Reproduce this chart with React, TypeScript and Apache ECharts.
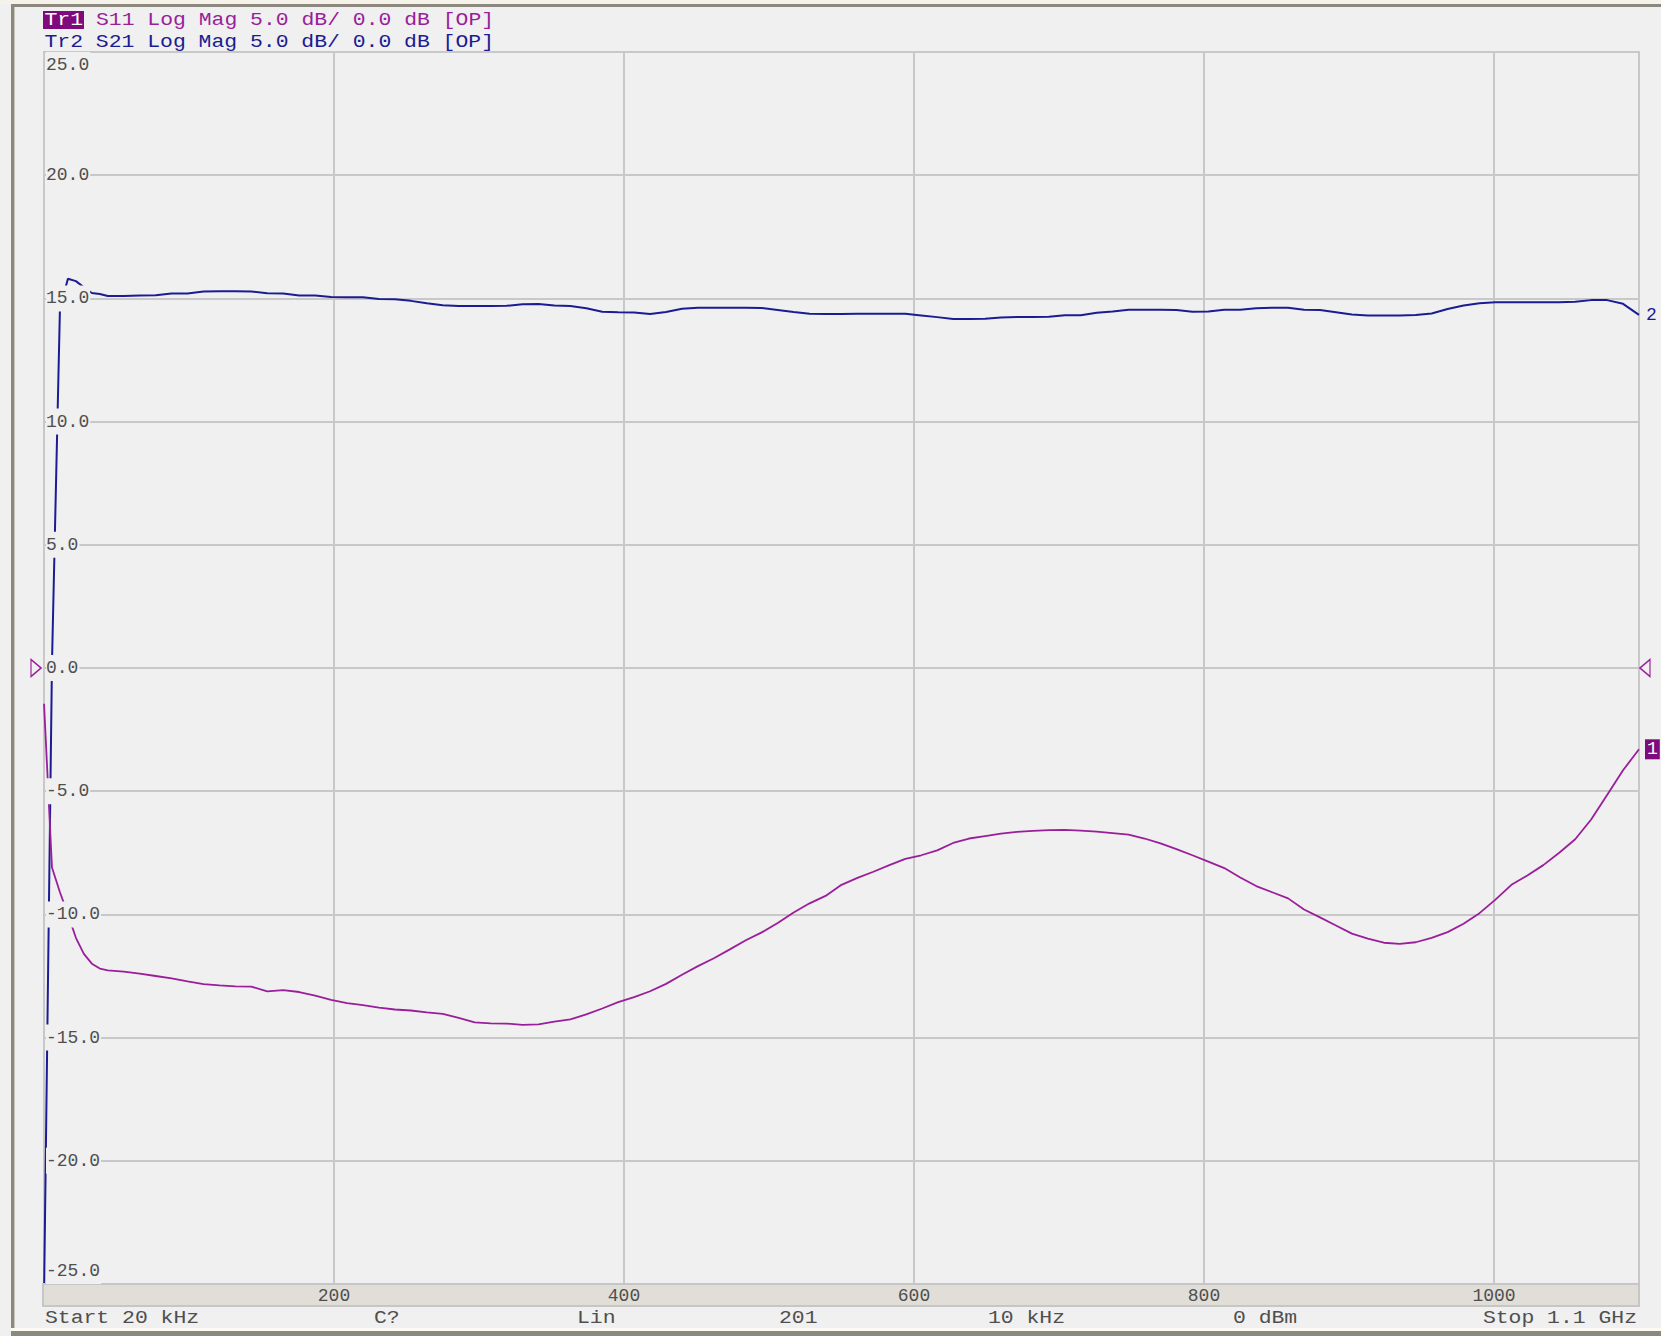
import React, { useEffect, useRef } from "react";
import * as echarts from "echarts";

// Frequency points (MHz) and trace values (dB)
const freqMHz = [
  0.02, 5.5, 11, 16.5, 22, 27.5, 33, 38.5, 44,
  55, 66, 77, 88, 99, 110, 121, 132, 143, 154, 165, 176, 187, 198,
  209, 220, 231, 242, 253, 264, 275, 286, 297, 308, 319, 330, 341, 352,
  363, 374, 385, 396, 407, 418, 429, 440, 451, 462, 473, 484, 495, 506,
  517, 528, 539, 550, 561, 572, 583, 594, 605, 616, 627, 638, 649, 660,
  671, 682, 693, 704, 715, 726, 737, 748, 759, 770, 781, 792, 803, 814,
  825, 836, 847, 858, 869, 880, 891, 902, 913, 924, 935, 946, 957, 968,
  979, 990, 1001, 1012, 1023, 1034, 1045, 1056, 1067, 1078, 1089, 1100,
];

const s21Db = [
  -25.5, 0.2, 14.6, 15.8, 15.7, 15.45, 15.22, 15.18, 15.1,
  15.1, 15.12, 15.13, 15.2, 15.2, 15.28, 15.29, 15.29, 15.28, 15.21, 15.2, 15.12, 15.12, 15.06,
  15.05, 15.05, 14.98, 14.97, 14.9, 14.8, 14.72, 14.69, 14.69, 14.69, 14.7, 14.76, 14.77, 14.71,
  14.69, 14.6, 14.46, 14.44, 14.43, 14.37, 14.45, 14.58, 14.62, 14.62, 14.62, 14.62, 14.61, 14.53,
  14.45, 14.38, 14.37, 14.37, 14.38, 14.38, 14.38, 14.38, 14.31, 14.24, 14.16, 14.16, 14.17, 14.22,
  14.25, 14.25, 14.26, 14.32, 14.32, 14.42, 14.47, 14.54, 14.54, 14.54, 14.53, 14.46, 14.47, 14.54,
  14.54, 14.6, 14.62, 14.62, 14.54, 14.53, 14.44, 14.35, 14.31, 14.31, 14.31, 14.33, 14.39, 14.57,
  14.71, 14.8, 14.84, 14.84, 14.84, 14.84, 14.84, 14.86, 14.93, 14.93, 14.78, 14.33,
];

const s11Db = [
  -1.45, -8.1, -9.1, -10.0, -10.95, -11.6, -12.0, -12.2, -12.27,
  -12.32, -12.4, -12.5, -12.6, -12.72, -12.83, -12.88, -12.92, -12.93, -13.12, -13.07, -13.15, -13.3, -13.47,
  -13.6, -13.68, -13.78, -13.86, -13.9, -13.98, -14.04, -14.2, -14.38, -14.42, -14.43, -14.48, -14.46, -14.35,
  -14.26, -14.06, -13.82, -13.56, -13.36, -13.12, -12.82, -12.45, -12.1, -11.78, -11.42, -11.05, -10.73, -10.35,
  -9.92, -9.55, -9.25, -8.8, -8.52, -8.27, -8.0, -7.75, -7.6, -7.4, -7.1, -6.92, -6.82, -6.72,
  -6.65, -6.61, -6.58, -6.57, -6.6, -6.64, -6.7, -6.76, -6.92, -7.12, -7.35, -7.6, -7.86, -8.12,
  -8.5, -8.85, -9.1, -9.35, -9.8, -10.12, -10.45, -10.78, -10.98, -11.15, -11.2, -11.13, -10.95, -10.72,
  -10.38, -9.95, -9.4, -8.8, -8.42, -8.0, -7.5, -6.95, -6.15, -5.15, -4.15, -3.3,
];

const headerTr1 = "Tr1";
const headerS11 = "S11 Log Mag 5.0 dB/ 0.0 dB [OP]";
const headerTr2 = "Tr2 S21 Log Mag 5.0 dB/ 0.0 dB [OP]";
const footerLabels = ["Start 20 kHz", "C?", "Lin", "201", "10 kHz", "0 dBm", "Stop 1.1 GHz"];
const footerX = [45, 374, 577, 779, 988, 1233, 1637];

const MONO = '"Liberation Mono", "DejaVu Sans Mono", monospace';
const MAGENTA = "#9a1e9a";
const BLUE = "#1c1c92";
const GRAY_TXT = "#4f4f4f";
const GRID_C = "#c8c8c8";
const FS = 18;
const SX = 1.19;

export default function App() {
  const ref = useRef<HTMLDivElement>(null);
  useEffect(() => {
    if (!ref.current) return;
    const chart = echarts.init(ref.current, null, { renderer: "svg" });

    const s11Data = freqMHz.map((f, i) => [f, s11Db[i]]);
    const s21Data = freqMHz.map((f, i) => [f, s21Db[i]]);

    const footerEls = footerLabels.map((t, i) => ({
      type: "text",
      x: footerX[i],
      y: 1318,
      scaleX: SX,
      z: 20,
      style: {
        text: t,
        fontFamily: MONO,
        fontSize: FS,
        fill: GRAY_TXT,
        textAlign: i === footerLabels.length - 1 ? "right" : "left",
        align: i === footerLabels.length - 1 ? "right" : "left",
        textVerticalAlign: "middle",
        verticalAlign: "middle",
      },
    }));

    const option: any = {
      animation: false,
      backgroundColor: "#f0f0f0",
      grid: {
        left: 44,
        top: 52,
        width: 1595,
        height: 1232,
        show: true,
        borderColor: "#c4c4c4",
        borderWidth: 2,
        backgroundColor: "#f0f0f0",
      },
      xAxis: [
        {
          type: "value",
          min: 0,
          max: 1100,
          interval: 200,
          position: "bottom",
          axisLine: { show: false },
          axisTick: { show: false },
          axisLabel: { show: false },
          splitLine: { show: true, lineStyle: { color: GRID_C, width: 2 } },
        },
        {
          type: "value",
          min: 0,
          max: 1100,
          interval: 200,
          position: "bottom",
          z: 10,
          axisLine: { show: false },
          axisTick: { show: false },
          splitLine: { show: false },
          axisLabel: {
            show: true,
            showMinLabel: false,
            showMaxLabel: false,
            margin: 3,
            color: GRAY_TXT,
            fontFamily: MONO,
            fontSize: FS,
            formatter: (v: number) => String(v),
          },
        },
      ],
      yAxis: [
        {
          type: "value",
          min: -25,
          max: 25,
          interval: 5,
          position: "left",
          axisLine: { show: false },
          axisTick: { show: false },
          axisLabel: { show: false },
          splitLine: { show: true, lineStyle: { color: GRID_C, width: 2 } },
        },
        {
          type: "value",
          min: -25,
          max: 25,
          interval: 5,
          position: "left",
          offset: 0,
          z: 10,
          axisLine: { show: false },
          axisTick: { show: false },
          splitLine: { show: false },
          axisLabel: {
            show: true,
            inside: true,
            margin: 2,
            color: GRAY_TXT,
            fontFamily: MONO,
            fontSize: FS,
            backgroundColor: "#f0f0f0",
            padding: [4, 1, 4, 0],
            verticalAlignMaxLabel: "top",
            verticalAlignMinLabel: "bottom",
            formatter: (v: number) => v.toFixed(1),
          },
        },
      ],
      series: [
        {
          type: "line",
          name: "S21",
          xAxisIndex: 0,
          yAxisIndex: 0,
          data: s21Data,
          showSymbol: false,
          symbol: "none",
          clip: true,
          lineStyle: { color: BLUE, width: 2 },
          itemStyle: { color: BLUE },
          endLabel: {
            show: true,
            formatter: "2",
            distance: 7,
            color: BLUE,
            fontFamily: MONO,
            fontSize: FS,
          },
        },
        {
          type: "line",
          name: "S11",
          xAxisIndex: 0,
          yAxisIndex: 0,
          data: s11Data,
          showSymbol: false,
          symbol: "none",
          clip: true,
          lineStyle: { color: MAGENTA, width: 1.8 },
          itemStyle: { color: MAGENTA },
          endLabel: {
            show: true,
            formatter: "1",
            distance: 6,
            color: "#ffffff",
            backgroundColor: "#7e0a7e",
            padding: [1, 2, 1, 2],
            fontFamily: MONO,
            fontSize: FS,
          },
          markPoint: {
            silent: true,
            label: { show: false },
            symbolKeepAspect: false,
            itemStyle: { color: "rgba(0,0,0,0)", borderColor: MAGENTA, borderWidth: 1.5 },
            data: [
              { coord: [0, 0], symbol: "path://M0,0L10,8L0,16Z", symbolSize: [10, 17], symbolOffset: [-8, 0] },
              { coord: [1100, 0], symbol: "path://M10,0L0,8L10,16Z", symbolSize: [10, 17], symbolOffset: [6, 0] },
            ],
          },
        },
      ],
      graphic: [
        // outer instrument frame
        { type: "rect", z: 20, shape: { x: 0, y: 0, width: 1661, height: 4 }, style: { fill: "#f4f2e9" } },
        { type: "rect", z: 20, shape: { x: 11, y: 4, width: 1650, height: 3 }, style: { fill: "#8c887e" } },
        { type: "rect", z: 20, shape: { x: 11, y: 4, width: 3, height: 1332 }, style: { fill: "#8c887e" } },
        { type: "rect", z: 20, shape: { x: 14, y: 7, width: 1, height: 1322 }, style: { fill: "#c9c6bc" } },
        { type: "rect", z: 20, shape: { x: 11, y: 1328, width: 1650, height: 3 }, style: { fill: "#fbfaf3" } },
        { type: "rect", z: 20, shape: { x: 11, y: 1331, width: 1650, height: 5 }, style: { fill: "#8c887e" } },
        // frequency axis band
        {
          type: "rect",
          z: 5,
          shape: { x: 43, y: 1284, width: 1596, height: 22 },
          style: { fill: "#e1ded7", stroke: "#c6c6c6", lineWidth: 2 },
        },
        // header
        { type: "rect", z: 20, shape: { x: 43, y: 11, width: 41, height: 18 }, style: { fill: "#7e0a7e" } },
        {
          type: "text",
          z: 21,
          x: 44.5,
          y: 20,
          scaleX: SX,
          style: {
            text: headerTr1,
            fontFamily: MONO,
            fontSize: FS,
            fill: "#ffffff",
            textVerticalAlign: "middle",
            verticalAlign: "middle",
          },
        },
        {
          type: "text",
          z: 21,
          x: 96,
          y: 20,
          scaleX: SX,
          style: {
            text: headerS11,
            fontFamily: MONO,
            fontSize: FS,
            fill: MAGENTA,
            textVerticalAlign: "middle",
            verticalAlign: "middle",
          },
        },
        {
          type: "text",
          z: 21,
          x: 44.5,
          y: 42,
          scaleX: SX,
          style: {
            text: headerTr2,
            fontFamily: MONO,
            fontSize: FS,
            fill: BLUE,
            textVerticalAlign: "middle",
            verticalAlign: "middle",
          },
        },
        ...footerEls,
      ],
    };

    chart.setOption(option);
    return () => chart.dispose();
  }, []);

  return (
    <div
      ref={ref}
      style={{ position: "fixed", left: 0, top: 0, width: 1661, height: 1336, background: "#f0f0f0" }}
    />
  );
}
